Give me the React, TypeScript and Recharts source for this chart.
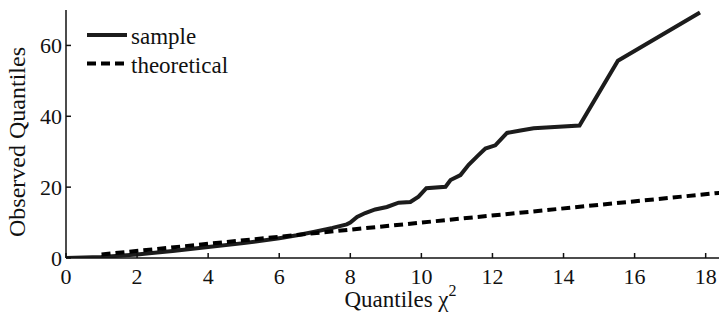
import React from "react";
import { LineChart, Line, XAxis, YAxis, Legend, Label } from "recharts";

// sample quantiles
const sampleX = [0, 1, 2, 3, 4, 5, 6, 6.5, 7, 7.5, 7.9, 8.0, 8.19, 8.42, 8.7, 9.03, 9.36, 9.69, 9.92, 10.14, 10.68, 10.82, 11.1, 11.33, 11.57, 11.8, 12.08, 12.41, 12.79, 13.16, 13.63, 14.45, 15.53, 17.84];
const sampleY = [0, 0.3, 1.0, 2.0, 3.1, 4.2, 5.6, 6.4, 7.4, 8.5, 9.5, 10.0, 11.6, 12.7, 13.7, 14.4, 15.6, 15.8, 17.3, 19.7, 20.1, 22.0, 23.4, 26.3, 28.7, 30.9, 31.8, 35.3, 36.0, 36.6, 36.9, 37.4, 55.7, 69.3];
const theoryX = [1, 18.6];
const theoryY = [1, 18.6];
const xTicks = [0, 2, 4, 6, 8, 10, 12, 14, 16, 18];
const yTicks = [0, 20, 40, 60];

const sampleData = sampleX.map((x, i) => ({ x, y: sampleY[i] }));
const theoryData = theoryX.map((x, i) => ({ x, y: theoryY[i] }));

const FONT = "'Liberation Serif', 'Times New Roman', serif";
const tickStyle = { fontSize: 22, fill: "#111", fontFamily: FONT };

const YTitle = ({ viewBox }: any) => {
  const cx = viewBox.x + 17;
  const cy = 142;
  return (
    <text
      x={cx}
      y={cy}
      transform={`rotate(-90, ${cx}, ${cy})`}
      textAnchor="middle"
      dominantBaseline="central"
      fontSize={24}
      fontFamily={FONT}
      fill="#111"
    >
      Observed Quantiles
    </text>
  );
};

const XTitle = ({ viewBox }: any) => {
  const cx = viewBox.x + viewBox.width / 2 + 4;
  return (
    <text x={cx} y={307} textAnchor="middle" fontSize={23} fontFamily={FONT} fill="#111">
      Quantiles χ
      <tspan fontSize={16} dy={-11}>2</tspan>
    </text>
  );
};

const LegendBox = ({ payload }: any) => {
  const items = payload || [];
  return (
    <svg width={170} height={66}>
      {items.map((p: any, i: number) => {
        const y = 15 + i * 28.5;
        return (
          <g key={p.value}>
            <line
              x1={7}
              x2={47}
              y1={y}
              y2={y}
              stroke={p.color}
              strokeWidth={4}
              strokeDasharray={p.payload?.strokeDasharray}
            />
            <text x={51} y={y + 9} fontSize={23} fontFamily={FONT} fill="#111">
              {p.value}
            </text>
          </g>
        );
      })}
    </svg>
  );
};

export default function App() {
  return (
    <div style={{ width: 727, height: 320, overflow: "hidden", margin: -8, background: "#fff" }}>
      <LineChart width={727} height={320} margin={{ top: 10, right: 0, bottom: 0, left: 0 }}>
        <XAxis
          xAxisId="bottom"
          dataKey="x"
          type="number"
          domain={[0, 18.6]}
          ticks={xTicks}
          allowDataOverflow
          height={62}
          tickSize={-5}
          tickMargin={15}
          tick={tickStyle}
          stroke="#111"
          strokeWidth={1.5}
        >
          <Label content={<XTitle />} />
        </XAxis>
        <XAxis
          xAxisId="top"
          orientation="top"
          dataKey="x"
          type="number"
          domain={[0, 18.6]}
          ticks={xTicks}
          allowDataOverflow
          height={0}
          tickSize={-5}
          tickFormatter={() => ""}
          stroke="#111"
          strokeWidth={1.5}
        />
        <YAxis
          dataKey="y"
          type="number"
          domain={[0, 70]}
          ticks={yTicks}
          allowDataOverflow
          width={66}
          tickSize={-5}
          tickMargin={9}
          tick={tickStyle}
          stroke="#111"
          strokeWidth={1.5}
        >
          <Label content={<YTitle />} />
        </YAxis>
        <Legend
          verticalAlign="middle"
          align="center"
          layout="horizontal"
          wrapperStyle={{ left: 80, top: 20, width: 170 }}
          content={<LegendBox />}
        />
        <Line
          xAxisId="bottom"
          data={sampleData}
          dataKey="y"
          name="sample"
          type="linear"
          stroke="#1c1c1c"
          strokeWidth={4}
          dot={false}
          isAnimationActive={false}
        />
        <Line
          xAxisId="bottom"
          data={theoryData}
          dataKey="y"
          name="theoretical"
          type="linear"
          stroke="#000"
          strokeWidth={4}
          strokeDasharray="9 5"
          dot={false}
          isAnimationActive={false}
        />
      </LineChart>
    </div>
  );
}
